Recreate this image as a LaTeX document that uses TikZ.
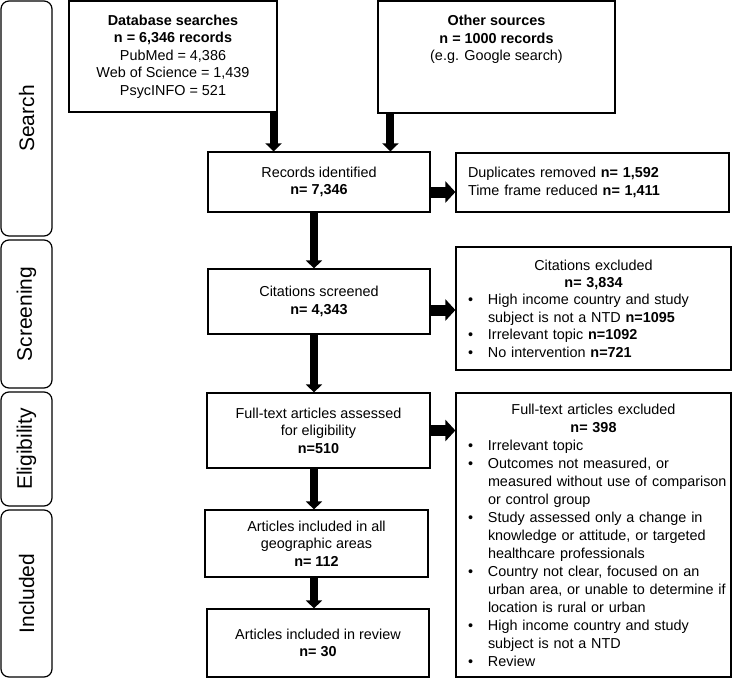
\documentclass[tikz,border=0pt]{standalone}
\usepackage{fontspec}
\setmainfont{Liberation Sans}
\usetikzlibrary{arrows.meta, positioning, calc}
\newcommand{\bl}[1]{\makebox[20pt][l]{\textbullet}\mbox{#1}}
\newcommand{\cl}[1]{\hspace*{20pt}\mbox{#1}}
\newcommand{\ctr}[1]{\makebox[\linewidth][c]{#1}}

\begin{document}
\begin{tikzpicture}[x=1pt, y=-1pt,
  flowbox/.style={draw, line width=1.2pt, align=center, inner sep=0pt, font=\fontsize{14.4}{17.4}\selectfont},
  listbox/.style={flowbox, align=left, inner xsep=12pt, inner ysep=0pt},
  phasebox/.style={draw, line width=1.2pt, rounded corners=8pt, rotate=90, minimum height=51pt, inner sep=0pt, font=\fontsize{21}{25}\selectfont},
  downarrow/.style={-{Triangle[length=8pt, width=16pt]}, line width=8pt},
  rightarrow/.style={-{Triangle[length=10pt, width=21pt]}, line width=11pt}
]
  \useasboundingbox (0,0) rectangle (732,678);

  % Phases
  \node[phasebox, minimum width=235pt] (search) at (26.5,118.5) {Search};
  \node[phasebox, minimum width=148pt] (screening) at (26.5,314) {Screening};
  \node[phasebox, minimum width=114pt] (eligibility) at (26.5,449) {Eligibility};
  \node[phasebox, minimum width=167pt] (included) at (26.5,593.5) {Included};

  % Sources
  \node[flowbox, minimum width=208pt, minimum height=111pt, text depth=3pt] (db) at (173,56.5) {\textbf{Database searches}\\ \textbf{n = 6,346 records}\\ PubMed = 4,386\\ Web of Science = 1,439\\ PsycINFO = 521};
  \node[flowbox, minimum width=237pt, minimum height=112pt, text depth=3pt] (other) at (496.5,57) {\textbf{Other sources}\\ \textbf{n = 1000 records}\\ (e.g. Google search)\\ ~\\ ~};

  % Main flow
  \node[flowbox, minimum width=222pt, minimum height=60pt] (records) at (319,182) {Records identified\\ \textbf{n= 7,346}};
  \node[flowbox, minimum width=222pt, minimum height=65pt] (screened) at (319,301.5) {Citations screened\\ \textbf{n= 4,343}};
  \node[flowbox, minimum width=223pt, minimum height=75pt] (fulltext) at (318.5,430.5) {Full-text articles assessed\\ for eligibility\\ \textbf{n=510}};
  \node[flowbox, minimum width=223pt, minimum height=67pt] (geo) at (316.5,543.5) {Articles included in all\\ geographic areas\\ \textbf{n= 112}};
  \node[flowbox, minimum width=222pt, minimum height=68pt] (review) at (318,643) {Articles included in review\\ \textbf{n= 30}};

  % Exclusions
  \node[listbox, minimum height=59pt, text width=249pt] (dupl) at (592.5,182.5) {Duplicates removed \textbf{n= 1,592}\\ Time frame reduced \textbf{n= 1,411}};
  \node[listbox, minimum height=123pt, text width=251pt] (citexcl) at (593.5,308.5) {\ctr{Citations excluded}\\
    \ctr{\textbf{n= 3,834}}\\
    \bl{High income country and study}\\
    \cl{subject is not a NTD \textbf{n=1095}}\\
    \bl{Irrelevant topic \textbf{n=1092}}\\
    \bl{No intervention \textbf{n=721}}};
  \node[listbox, minimum height=284pt, text width=251pt, font=\fontsize{14.4}{18}\selectfont] (fullexcl) at (593.5,535) {\ctr{Full-text articles excluded}\\
    \ctr{\textbf{n= 398}}\\
    \bl{Irrelevant topic}\\
    \bl{Outcomes not measured, or}\\
    \cl{measured without use of comparison}\\
    \cl{or control group}\\
    \bl{Study assessed only a change in}\\
    \cl{knowledge or attitude, or targeted}\\
    \cl{healthcare professionals}\\
    \bl{Country not clear, focused on an}\\
    \cl{urban area, or unable to determine if}\\
    \cl{location is rural or urban}\\
    \bl{High income country and study}\\
    \cl{subject is not a NTD}\\
    \bl{Review}};

  % Arrows down
  \coordinate (dbout) at ([xshift=-4pt]db.south east);
  \coordinate (otherout) at ([xshift=13pt]other.south west);
  \coordinate (recout) at ([xshift=-5pt]records.south);
  \coordinate (scrout) at ([xshift=-5pt]screened.south);
  \coordinate (fullout) at ([xshift=-4.5pt]fulltext.south);
  \coordinate (geoout) at ([xshift=-2.5pt]geo.south);
  \draw[downarrow] (dbout) -- (dbout |- records.north);
  \draw[downarrow] (otherout) -- (otherout |- records.north);
  \draw[downarrow] (recout) -- (recout |- screened.north);
  \draw[downarrow] (scrout) -- (scrout |- fulltext.north);
  \draw[downarrow] (fullout) -- (fullout |- geo.north);
  \draw[downarrow] (geoout) -- (geoout |- review.north);

  % Arrows right
  \coordinate (recright) at ([yshift=-10pt]records.east);
  \coordinate (scrright) at ([yshift=-8.5pt]screened.east);
  \draw[rightarrow] (recright) -- (recright -| dupl.west);
  \draw[rightarrow] (scrright) -- (scrright -| citexcl.west);
  \draw[rightarrow] (fulltext.east) -- (fulltext.east -| fullexcl.west);
\end{tikzpicture}
\end{document}
